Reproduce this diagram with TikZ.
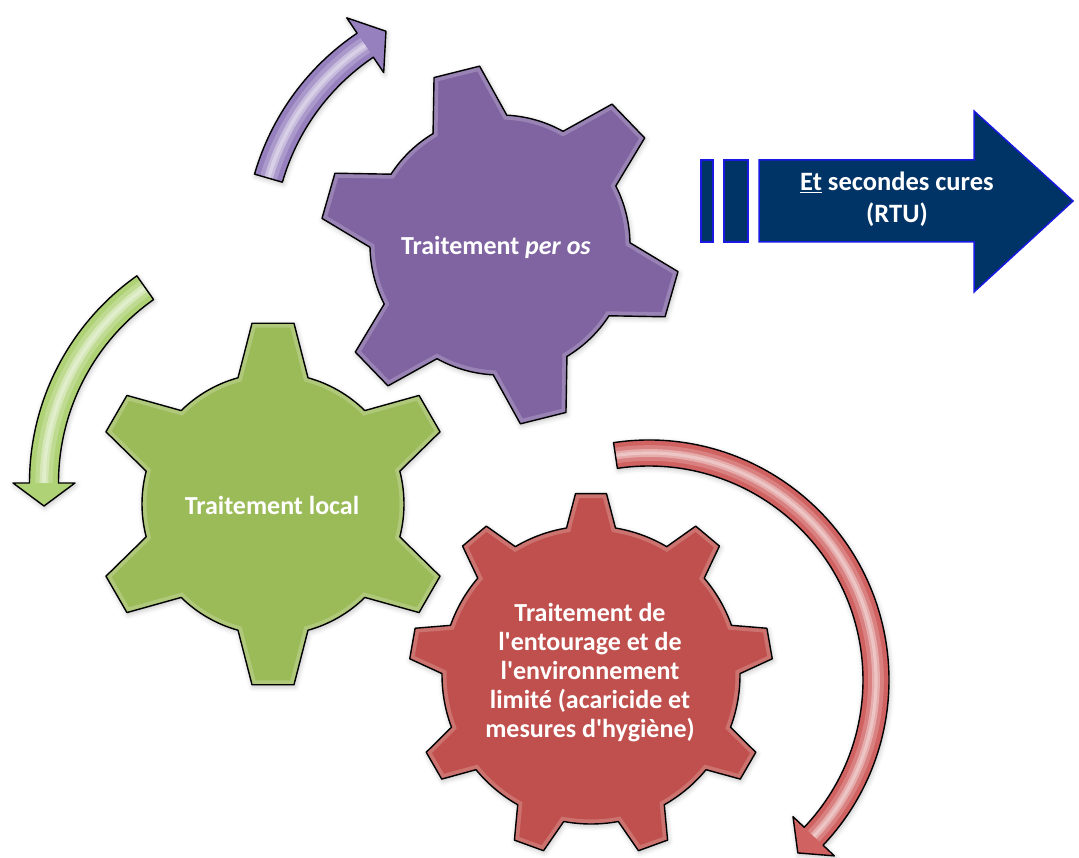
\documentclass[tikz,border=0pt]{standalone}
\usepackage{fontspec}
\setmainfont{Carlito}[Ligatures=TeXOff]
\usetikzlibrary{shadows.blur}

\definecolor{gearpurple}{RGB}{128,100,162}
\definecolor{geargreen}{RGB}{155,187,89}
\definecolor{gearred}{RGB}{192,80,77}
\definecolor{arrowpurple}{RGB}{150,128,190}
\definecolor{arrowgreen}{RGB}{176,210,118}
\definecolor{arrowred}{RGB}{208,98,98}
\definecolor{navy}{RGB}{0,51,102}
\definecolor{navyedge}{RGB}{25,25,225}

\tikzset{
  soft shadow/.style={blur shadow={shadow xshift=1pt, shadow yshift=-2pt,
      shadow blur radius=5pt, shadow opacity=25}},
  outline/.style={draw=black, line width=1.4pt, line join=round},
  geartext/.style={text=white, font=\fontsize{26}{29}\selectfont\bfseries,
      align=center, inner sep=0pt},
  bluebox/.style={fill=navy, draw=navyedge, line width=1.5pt},
  bluetext/.style={text=white, font=\fontsize{26.5}{32}\selectfont\bfseries,
      align=center, inner sep=0pt}
}

% gear: centre, number of teeth, angle of first tooth, body radius,
% tip radius, half width of a tooth at its root, half width at its tip, colour
\newcommand{\gear}[8]{%
  \begin{scope}[shift={#1}]
    \pgfmathsetmacro\gd{asin(#6/#4)}%
    \pgfmathsetmacro\ge{asin(#7/#5)}%
    \pgfmathsetmacro\gs{360/#2}%
    \def\gp{({#3-\gd}:#4) \foreach \k in {1,...,#2} {
        -- ({#3+(\k-1)*\gs-\ge}:#5) -- ({#3+(\k-1)*\gs+\ge}:#5)
        -- ({#3+(\k-1)*\gs+\gd}:#4)
        arc[start angle={#3+(\k-1)*\gs+\gd}, end angle={#3+\k*\gs-\gd}, radius=#4]} -- cycle}%
    \fill[#8, soft shadow] \gp;
    \begin{scope}
      \clip \gp;
      \draw[white, opacity=.2, line width=9pt] \gp;
    \end{scope}
    \path[outline] \gp;
  \end{scope}}

% curved arrow: centre, middle radius, shaft width, tail angle, head angle,
% half width of the head, head length, turn (+1 counter-clockwise, -1 clockwise), colour
\newcommand{\ringarrow}[9]{%
  \begin{scope}[shift={#1}]
    \pgfmathsetmacro\ro{#2+#3/2}%
    \pgfmathsetmacro\ri{#2-#3/2}%
    \pgfmathsetmacro\rh{#2+#6}%
    \pgfmathsetmacro\rl{#2-#6}%
    \pgfmathsetmacro\ta{#5+#8*atan(#7/#2)}%
    \pgfmathsetmacro\tr{#2*sqrt(1+(#7/#2)^2)}%
    \def\ap{(#4:\ro) arc[start angle=#4, end angle=#5, radius=\ro]
        -- (#5:\rh) -- (\ta:\tr) -- (#5:\rl) -- (#5:\ri)
        arc[start angle=#5, end angle=#4, radius=\ri] -- cycle}%
    \fill[#9, soft shadow] \ap;
    \begin{scope}
      \clip \ap;
      \draw[white, opacity=.2, line width=#3*0.6] (#4:#2) arc[start angle=#4, end angle=#5, radius=#2];
      \draw[white, opacity=.35, line width=#3*0.3] (#4:#2) arc[start angle=#4, end angle=#5, radius=#2];
      \draw[white, opacity=.3, line width=#3*0.12] (#4:#2) arc[start angle=#4, end angle=#5, radius=#2];
    \end{scope}
    \path[outline] \ap;
  \end{scope}}

\begin{document}
\begin{tikzpicture}[x=1pt, y=1pt]
  \useasboundingbox (0,0) rectangle (1079,-858);

  % rotation arrows
  \ringarrow{(500,-245)}{241}{29}{163.9}{124}{33}{25}{-1}{arrowpurple}
  \ringarrow{(283,-483)}{239}{29}{125.2}{180}{31}{23}{1}{arrowgreen}
  \ringarrow{(649,-680)}{227}{26}{98.5}{-43.5}{28.5}{23}{-1}{arrowred}

  % gears
  \gear{(500,-245)}{6}{44}{130}{180}{38}{23.5}{gearpurple}
  \gear{(273,-504)}{6}{30}{131}{182}{35}{21}{geargreen}
  \gear{(591,-675)}{9}{10}{149}{182}{24.5}{15.5}{gearred}

  \node[geartext] (peros) at (496,-247) {Traitement \textit{per os}};
  \node[geartext] (local) at (272,-505) {Traitement local};
  \node[geartext] (entourage) at (590,-673) {Traitement de\\l'entourage et de\\l'environnement\\limité (acaricide et\\mesures d'hygiène)};

  % block arrow with its two bars
  \path[bluebox] (701,-160) rectangle (713,-242);
  \path[bluebox] (724,-160) rectangle (748,-242);
  \path[bluebox] (759,-160) -- (974,-160) -- (974,-111) -- (1073,-201)
      -- (974,-292) -- (974,-242) -- (759,-242) -- cycle;
  \node[bluetext] (cures) at (897,-199) {\underline{Et} secondes cures\\(RTU)};
\end{tikzpicture}
\end{document}
